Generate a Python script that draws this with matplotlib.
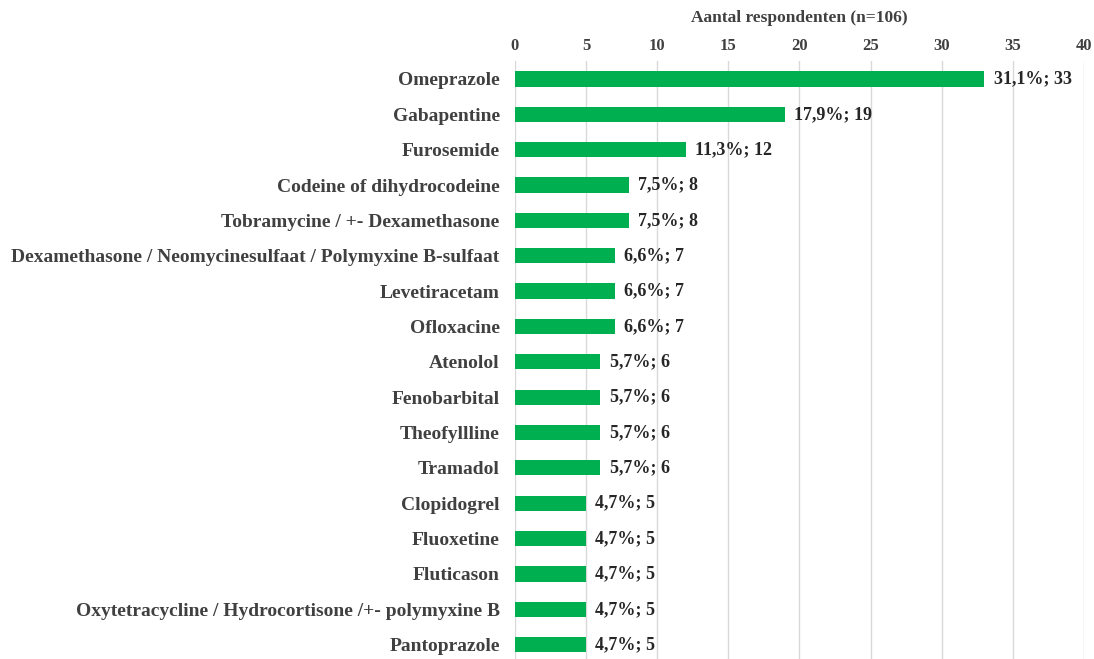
import matplotlib.pyplot as plt

# Medication counts among respondents (n=106)
drugs = [
    "Omeprazole", "Gabapentine", "Furosemide", "Codeine of dihydrocodeine",
    "Tobramycine / +- Dexamethasone",
    "Dexamethasone / Neomycinesulfaat / Polymyxine B-sulfaat",
    "Levetiracetam", "Ofloxacine", "Atenolol", "Fenobarbital", "Theofyllline",
    "Tramadol", "Clopidogrel", "Fluoxetine", "Fluticason",
    "Oxytetracycline / Hydrocortisone /+- polymyxine B", "Pantoprazole",
]
counts = [33, 19, 12, 8, 8, 7, 7, 7, 6, 6, 6, 6, 5, 5, 5, 5, 5]
pct_labels = ["31,1%", "17,9%", "11,3%", "7,5%", "7,5%", "6,6%", "6,6%", "6,6%",
              "5,7%", "5,7%", "5,7%", "5,7%", "4,7%", "4,7%", "4,7%", "4,7%", "4,7%"]
x_ticks = [0, 5, 10, 15, 20, 25, 30, 35, 40]

plt.rcParams['font.family'] = ['Liberation Serif', 'DejaVu Serif']
plt.rcParams['font.weight'] = 'bold'
text_color = "#404040"

fig = plt.figure(figsize=(10.94, 6.59), dpi=100)
ax = fig.add_axes([0.4707, -0.005, 0.5201, 0.912])

pos = list(range(len(drugs)))
ax.barh(pos, counts, height=0.43, color="#00B050", zorder=3)
for p, c, lab in zip(pos, counts, pct_labels):
    ax.text(c + 0.65, p, f"{lab}; {c}", va="center", ha="left",
            fontsize=13, fontweight="bold", color="#262626")

ax.set_xlim(0, 40)
ax.set_ylim(len(drugs) - 0.5, -0.5)
ax.set_xticks(x_ticks)
ax.set_yticks(pos)
ax.set_yticklabels(drugs)
ax.xaxis.tick_top()
ax.xaxis.set_label_position("top")
ax.set_xlabel("Aantal respondenten (n=106)", fontsize=12.5, fontweight="bold",
              color=text_color, labelpad=11)
ax.tick_params(axis="x", length=0, labelsize=12, labelcolor=text_color, pad=5.5)
ax.tick_params(axis="y", length=0, labelsize=14, labelcolor=text_color, pad=11)
for lab in ax.get_xticklabels() + ax.get_yticklabels():
    lab.set_fontweight("bold")

ax.grid(axis="x", color="#d9d9d9", linewidth=1, zorder=0)
for s in ax.spines.values():
    s.set_visible(False)

fig.savefig("out.png", dpi=100)
